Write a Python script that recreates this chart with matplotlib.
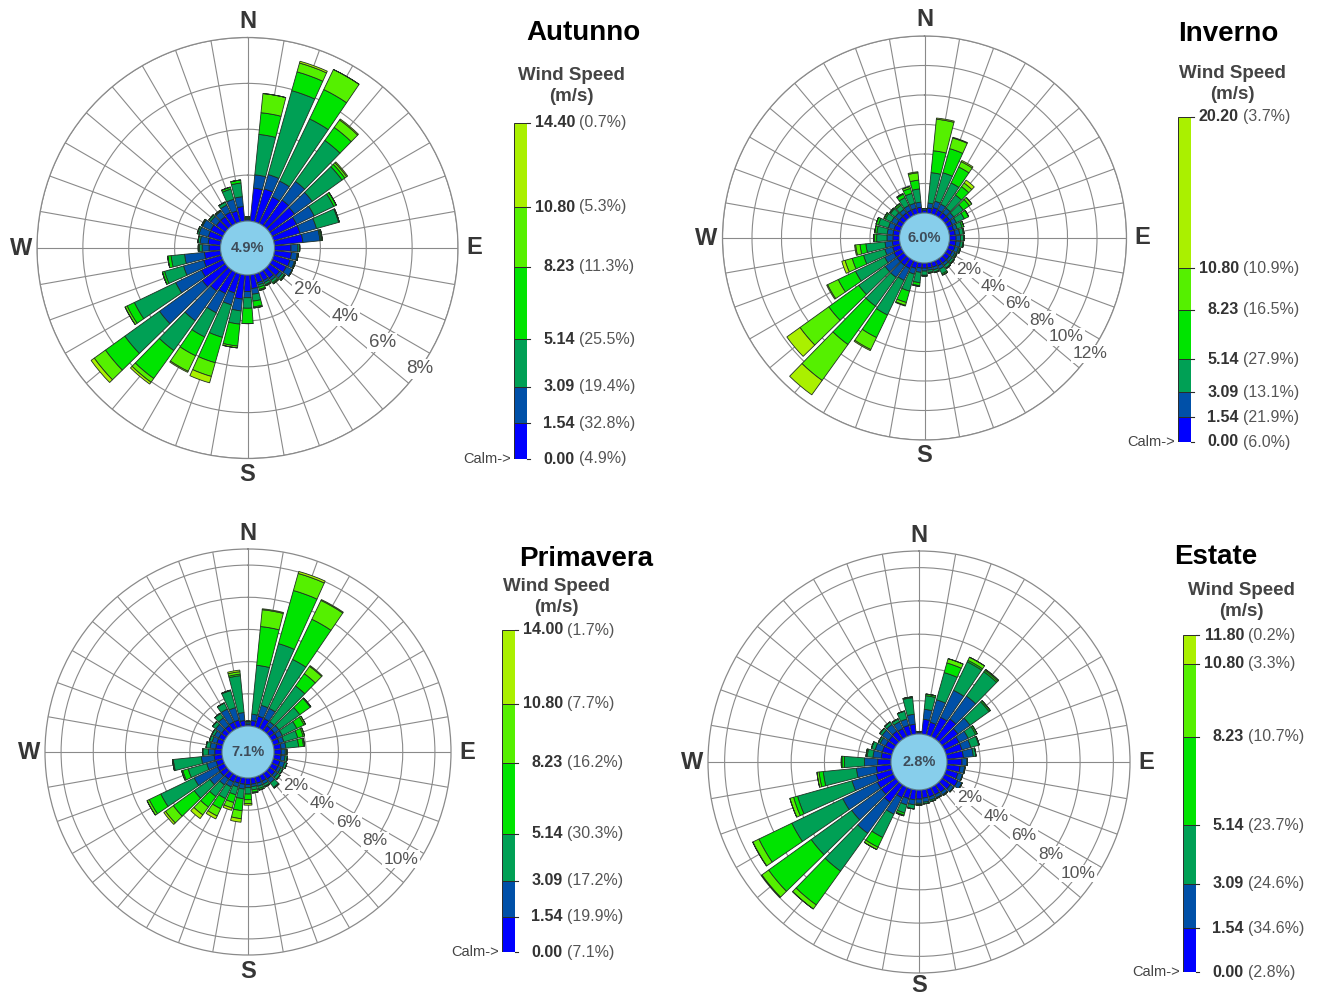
import numpy as np
import matplotlib
matplotlib.use('Agg')
import matplotlib.pyplot as plt
from matplotlib.patches import Circle

plt.rcParams['font.family'] = ['Liberation Sans', 'DejaVu Sans']

W, H = 1321, 996

# direzioni di provenienza (gradi da nord, senso orario)
directions = list(range(0, 360, 10))

# classi di velocita' (m/s) e colori
speed_bounds = [0.00, 1.54, 3.09, 5.14, 8.23, 10.80]
class_colors = ['#0000FF', '#0050A8', '#00A055', '#00E400', '#55F000', '#AAF000']

# ---------------- Autunno ----------------
aut_c1 = [.06, 1.45, 1.5, 1.3, 1.4, 1.35, 1.2, 1.2, 1.25, .72, .75, .75, .7, .55, .45, .4, .4, .6,
          .72, 1.06, .86, 1.03, 1.13, 1.25, 1.05, .8, .71, .5, .55, .6, .6, .5, .5, .55, .5, .64]
aut_c2 = [.05, .58, .65, .76, 1.0, .95, .85, .75, .75, .3, .25, .2, .3, .15, .12, .1, .1, .25,
          .27, .52, .54, .93, 1.6, 2.3, 1.25, .92, .87, .3, .35, .42, .4, .3, .3, .35, .53, .43]
aut_c3 = [.05, 1.77, 3.8, 3.01, 2.2, 1.6, .95, 1.0, .05, .08, .05, .05, 0, .1, .12, .1, .1, .3,
          .46, .58, 1.47, 1.17, 1.6, 1.86, 2.0, .86, .59, .12, .1, .08, .05, .1, .05, .15, .46, .6]
aut_c4 = [.03, .95, .85, 1.42, .7, .15, .12, .03, .05, 0, 0, 0, 0, .05, .06, .05, .1, .25,
          .67, .96, 1.15, .91, 1.5, 1.04, .35, .1, .15, .05, 0, 0, 0, 0, 0, 0, .09, .13]
aut_c5 = [0, .84, .4, .97, .4, .1, 0, 0, 0, 0, 0, 0, 0, 0, 0, 0, .05, .05,
          0, .08, .62, .75, .2, .6, .1, 0, 0, 0, 0, 0, 0, 0, 0, 0, 0, 0]
aut_c6 = [0, 0, .08, 0, .05, .05, 0, 0, 0, 0, 0, 0, 0, 0, 0, 0, 0, 0,
          0, 0, .29, .05, .1, .17, 0, 0, 0, 0, 0, 0, 0, 0, 0, 0, 0, 0]
aut_vmax = 14.40
aut_pct = [4.9, 32.8, 19.4, 25.5, 11.3, 5.3, 0.7]

# ---------------- Inverno ----------------
inv_c1 = [.2, .35, .45, .4, .4, .4, .4, .35, .4, .45, .45, .45, .4, .4, .4, .4, .35, .35,
          .35, .35, .45, .6, .6, .6, .6, .55, .5, .45, .45, .45, .4, .4, .4, .4, .4, .4]
inv_c2 = [.1, .34, .45, .45, .4, .35, .3, .25, .3, .3, .3, .25, .2, .2, .2, .25, .2, .15,
          .2, .3, .4, .9, 1.0, 1.0, .7, .55, .5, .4, .4, .4, .4, .35, .3, .35, .35, .35]
inv_c3 = [0, 2.07, 2.0, 1.6, 1.1, .8, .6, .35, .25, .2, .17, .1, .1, .15, .2, .35, .15, .15,
          .28, .7, 1.2, 2.6, 2.4, 2.2, 2.2, 1.5, 1.3, .7, .7, .7, .45, .4, .35, .6, .7, .9]
inv_c4 = [0, 1.49, 1.7, 1.2, .7, .5, .33, .13, .05, .05, .05, .05, .05, .05, .05, .1, .05, .05,
          .05, .2, .8, 1.7, 3.2, 2.5, 1.3, .8, .4, .15, .15, .17, .11, .07, .13, .25, .35, .6]
inv_c5 = [0, 2.15, .75, .4, .3, .2, 0, 0, 0, 0, 0, 0, 0, 0, 0, 0, 0, 0,
          0, .05, .2, .9, 3.0, 2.4, .8, .5, .3, .06, 0, 0, 0, 0, 0, .05, .14, .5]
inv_c6 = [0, .08, .05, .09, .24, .01, 0, 0, 0, 0, 0, 0, 0, 0, 0, 0, 0, 0,
          0, 0, .05, .08, 1.2, 1.1, .07, .23, .07, 0, 0, 0, 0, 0, 0, 0, 0, .07]
inv_vmax = 20.20
inv_pct = [6.0, 21.9, 13.1, 27.9, 16.5, 10.9, 3.7]

# ---------------- Primavera ----------------
pri_c1 = [.1, .35, .7, .69, .4, .4, .4, .4, .45, .45, .45, .45, .45, .45, .45, .4, .4, .4,
          .4, .4, .4, .45, .45, .5, .5, .45, .5, .45, .4, .4, .4, .4, .4, .45, .45, .35]
pri_c2 = [.1, .4, .7, .71, .3, .35, .35, .3, .3, .25, .25, .3, .2, .2, .3, .2, .2, .15,
          .2, .3, .25, .35, .45, .8, 1.6, .6, .8, .4, .35, .3, .3, .45, .6, .9, .8, .5]
pri_c3 = [.1, 3.05, 3.98, 3.37, 2.74, 1.6, 1.0, .9, .8, .1, .15, .15, .15, .2, .35, .15, .15, .2,
          .4, .6, .5, .8, .9, 1.2, 2.3, 1.2, 1.75, .35, .25, .18, .18, .25, .35, .42, 1.1, 2.3]
pri_c4 = [0, 2.42, 3.43, 2.77, .94, .8, .5, .35, .3, 0, 0, 0, 0, 0, .05, .05, .1, .15,
          .35, .75, .5, .7, .8, 1.6, .8, .35, .05, 0, 0, 0, 0, 0, 0, 0, .03, .1]
pri_c5 = [0, 1.05, 1.1, 1.3, .56, .05, .1, .09, .07, 0, 0, 0, 0, 0, 0, 0, 0, .05,
          .24, .5, .35, .5, .6, .6, .15, .07, 0, 0, 0, 0, 0, 0, 0, 0, 0, .15]
pri_c6 = [0, .06, .13, .06, .06, 0, 0, 0, 0, 0, 0, 0, 0, 0, 0, 0, 0, 0,
          .1, .22, .15, .2, .28, .13, 0, 0, 0, 0, 0, 0, 0, 0, 0, 0, 0, .1]
pri_vmax = 14.00
pri_pct = [7.1, 19.9, 17.2, 30.3, 16.2, 7.7, 1.7]

# ---------------- Estate ----------------
est_c1 = [.1, .9, .8, 1.3, 1.5, 1.2, 1.0, 1.0, 1.0, .9, .8, .75, .9, .65, .55, .5, .5, .5,
          .55, .6, .6, .7, 1.3, 1.1, 1.1, 1.0, .9, .8, .6, .6, .55, .55, .6, .55, .6, .6]
est_c2 = [.05, .6, 1.4, 1.8, 1.7, .9, .6, .55, .6, .3, .27, .3, .3, .25, .2, .2, .2, .25,
          .25, .3, .4, 1.1, 2.3, 2.2, 2.3, 1.5, 1.2, .8, .5, .45, .35, .5, .5, .45, .4, .6]
est_c3 = [0, .82, 1.7, 1.9, 1.8, 1.4, .5, .5, .16, .03, .03, 0, 0, 0, .05, .05, .1, .1,
          .1, .25, .5, 1.55, 2.8, 3.0, 3.4, 3.4, 2.0, 1.2, .35, .24, .13, .18, .19, .2, .5, 1.0]
est_c4 = [0, .1, .6, .1, .1, .1, .1, .03, 0, 0, 0, 0, 0, 0, 0, 0, 0, 0,
          0, 0, .13, .65, 2.5, 3.15, 2.2, .25, .25, .15, .07, 0, 0, 0, 0, 0, 0, .05]
est_c5 = [0, 0, .27, .21, .07, 0, 0, 0, 0, 0, 0, 0, 0, 0, 0, 0, 0, 0,
          0, 0, .05, .16, .3, .5, .4, .23, .13, .04, 0, 0, 0, 0, 0, 0, 0, 0]
est_c6 = [0, 0, 0, 0, 0, 0, 0, 0, 0, 0, 0, 0, 0, 0, 0, 0, 0, 0,
          0, 0, 0, 0, 0, .05, .02, 0, 0, 0, 0, 0, 0, 0, 0, 0, 0, 0]
est_vmax = 11.80
est_pct = [2.8, 34.6, 24.6, 23.7, 10.7, 3.3, 0.2]


def fig_box(x0, y0, x1, y1):
    # pixel -> frazioni della figura
    return [x0 / W, 1 - y1 / H, (x1 - x0) / W, (y1 - y0) / H]


def draw_rose(cx, cy, R, calm_px, rmax, classes, calm_pct, lab_fs, s_pad=16):
    ax = fig.add_axes(fig_box(cx - R, cy - R, cx + R, cy + R), projection='polar')
    ax.set_theta_zero_location('N')
    ax.set_theta_direction(-1)
    ax.set_ylim(0, rmax)
    ax.set_rorigin(-calm_px * rmax / (R - calm_px))
    rings = list(range(2, int(rmax) + 1, 2))
    ax.set_thetagrids(directions, labels=[''] * len(directions))
    ax.set_rgrids(rings, labels=[''] * len(rings))
    ax.grid(True, color='#8a8a8a', linewidth=0.8)
    ax.tick_params(length=0)
    ax.set_axisbelow(True)
    for sp in ax.spines.values():
        sp.set_color('#8a8a8a')
        sp.set_linewidth(0.9)

    theta = np.deg2rad(directions)
    base = np.zeros(len(directions))
    for vals, col in zip(classes, class_colors):
        ax.bar(theta, vals, width=np.deg2rad(8.6), bottom=base, color=col,
               edgecolor='#1f2f22', linewidth=0.6, zorder=3)
        base = base + np.array(vals)

    for r in rings:
        ax.text(np.deg2rad(125), r, '%d%%' % r, ha='center', va='center', fontsize=lab_fs,
                color='#555555', zorder=4,
                bbox=dict(facecolor='white', edgecolor='none', pad=1.0))

    # cerchio delle calme
    ax.add_patch(Circle((0.5, 0.5), 0.5 * calm_px / R, transform=ax.transAxes,
                        facecolor='#87CEEB', edgecolor='#56788a', linewidth=0.8,
                        zorder=5, clip_on=False))
    ax.text(0.5, 0.5, '%.1f%%' % calm_pct, transform=ax.transAxes, ha='center', va='center',
            fontsize=10.5, fontweight='bold', color='#3e4c59', zorder=6)

    for ang, lab in zip([0, 90, 180, 270], ['N', 'E', 'S', 'W']):
        a = np.deg2rad(ang)
        pad = s_pad if lab == 'S' else 16
        k = 0.5 * (R + pad) / R
        ax.text(0.5 + k * np.sin(a), 0.5 + k * np.cos(a), lab, transform=ax.transAxes,
                ha='center', va='center', fontsize=17, fontweight='bold', color='#363636')
    return ax


def draw_legend(x0, y_top, y_bot, vmax, pct, title, title_xy, ws_xy):
    cax = fig.add_axes(fig_box(x0, y_top, x0 + 13, y_bot))
    bounds = speed_bounds + [vmax]
    cax.bar(0, np.diff(bounds), bottom=bounds[:-1], width=1, color=class_colors,
            edgecolor='#2a2a2a', linewidth=0.7)
    cax.set_xlim(-0.5, 0.5)
    cax.set_ylim(0, vmax)
    cax.axis('off')
    tr = cax.get_yaxis_transform()
    for b, p in zip(bounds, pct):
        cax.plot([1, 1.25], [b, b], transform=tr, color='#2a2a2a', lw=0.8, clip_on=False)
        cax.annotate('%.2f' % b, xy=(1, b), xycoords=tr, xytext=(34.5, 0),
                     textcoords='offset points', ha='right', va='center',
                     fontsize=11.5, fontweight='bold', color='#333333')
        cax.annotate('(%.1f%%)' % p, xy=(1, b), xycoords=tr, xytext=(37.5, 0),
                     textcoords='offset points', ha='left', va='center',
                     fontsize=11.5, color='#555555')
    cax.annotate('Calm->', xy=(0, 0), xycoords=tr, xytext=(-2, 0), textcoords='offset points',
                 ha='right', va='center', fontsize=10.5, color='#444444')
    fig.text(title_xy[0] / W, 1 - title_xy[1] / H, title, ha='center', va='center',
             fontsize=20, fontweight='bold', color='black')
    fig.text(ws_xy[0] / W, 1 - ws_xy[1] / H, 'Wind Speed\n(m/s)', ha='center', va='center',
             fontsize=13.5, fontweight='bold', color='#444444', linespacing=1.38)


fig = plt.figure(figsize=(W / 100, H / 100), dpi=100)

draw_rose(247.5, 248, 210.5, 27, 8,
          [aut_c1, aut_c2, aut_c3, aut_c4, aut_c5, aut_c6], aut_pct[0], 13.5)
draw_legend(514, 123, 459, aut_vmax, aut_pct, 'Autunno', (583, 33), (571, 86))

draw_rose(924.5, 238, 202, 25, 12,
          [inv_c1, inv_c2, inv_c3, inv_c4, inv_c5, inv_c6], inv_pct[0], 12.5)
draw_legend(1178, 117, 442, inv_vmax, inv_pct, 'Inverno', (1228, 34), (1232, 84))

draw_rose(248, 752, 203, 26, 11,
          [pri_c1, pri_c2, pri_c3, pri_c4, pri_c5, pri_c6], pri_pct[0], 12.5)
draw_legend(502, 630, 952, pri_vmax, pri_pct, 'Primavera', (586, 559), (556, 597))

draw_rose(919, 762, 211, 28, 11,
          [est_c1, est_c2, est_c3, est_c4, est_c5, est_c6], est_pct[0], 12.5, s_pad=12)
draw_legend(1183, 635, 972, est_vmax, est_pct, 'Estate', (1216, 557), (1241, 601))

fig.savefig('out.png', dpi=100)
